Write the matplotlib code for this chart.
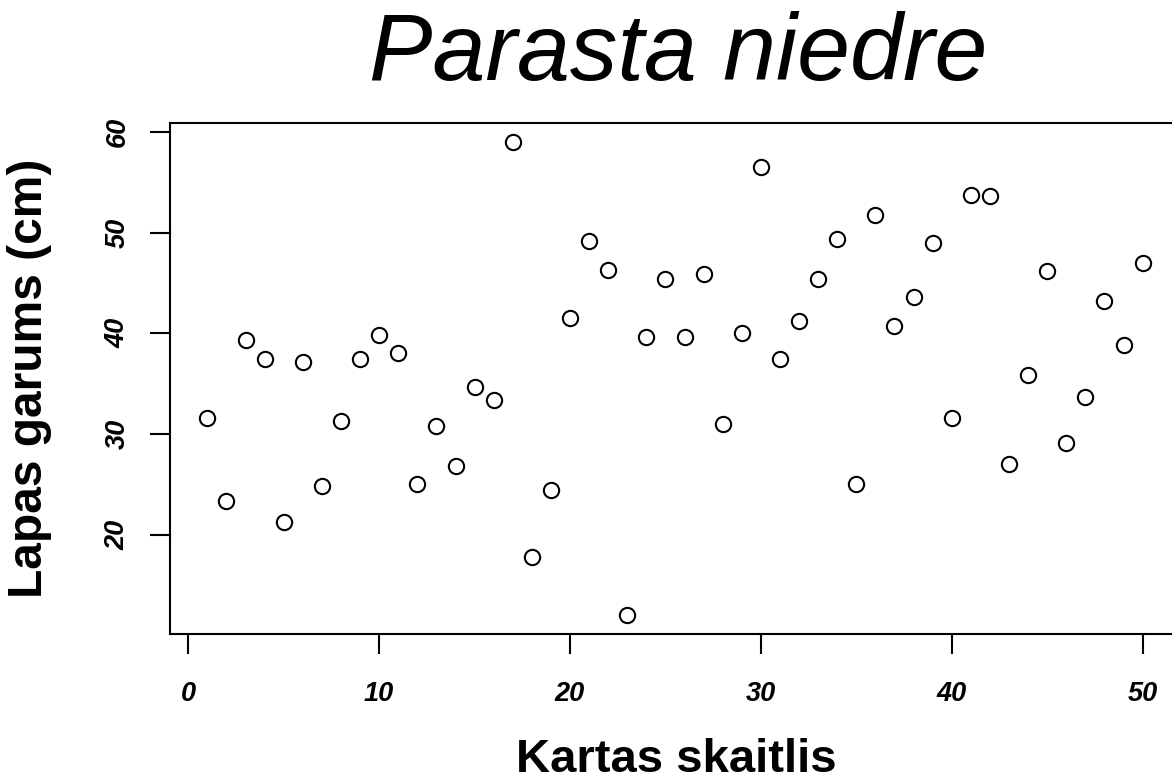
import matplotlib
matplotlib.use("Agg")
import matplotlib.pyplot as plt
import numpy as np

plt.rcParams["font.family"] = ["Liberation Sans", "DejaVu Sans"]

# card number vs leaf length (cm)
kartas = np.arange(1, 51)
garums = [31.6, 23.3, 39.3, 37.4, 21.2, 37.1, 24.8, 31.3, 37.4, 39.8,
          38.0, 25.0, 30.8, 26.8, 34.7, 33.4, 59.0, 17.8, 24.4, 41.5,
          49.2, 46.3, 12.0, 39.6, 45.4, 39.6, 45.9, 31.0, 40.0, 56.5,
          37.4, 41.2, 45.4, 49.4, 25.0, 51.7, 40.7, 43.6, 49.0, 31.6,
          53.7, 53.6, 27.0, 35.8, 46.2, 29.1, 33.7, 43.2, 38.8, 47.0]
xticks = [0, 10, 20, 30, 40, 50]
yticks = [20, 30, 40, 50, 60]


def _rlim(v):
    # R style 4% padding
    lo, hi = min(v), max(v)
    pad = 0.04 * (hi - lo)
    return lo - pad, hi + pad


W, H = 1172, 784
fig = plt.figure(figsize=(W / 100, H / 100), dpi=100)
# plot region runs past the right edge, as in the original
ax = fig.add_axes([170 / W, 1 - 634 / H, 1010 / W, 511 / H])

ax.plot(kartas, garums, "o", ms=11, mfc="white", mec="black", mew=1.5)
ax.set_xlim(*_rlim(kartas))
ax.set_ylim(*_rlim(garums))

for s in ax.spines.values():
    s.set_linewidth(1.5)

ax.set_xticks(xticks)
ax.set_yticks(yticks)
ax.tick_params(length=14.5, width=1.5, labelsize=19.5)
ax.tick_params(axis="x", pad=19)
ax.tick_params(axis="y", pad=14)
for lab in ax.get_xticklabels() + ax.get_yticklabels():
    lab.set_fontweight("bold")
    lab.set_fontstyle("italic")
for lab in ax.get_yticklabels():
    lab.set_rotation(90)
    lab.set_va("center")

fig.text(676 / W, 1 - 772 / H, "Kartas skaitlis", fontsize=34,
         fontweight="bold", ha="center", va="baseline")
fig.text(30 / W, 1 - 378 / H, "Lapas garums (cm)", fontsize=34.5,
         fontweight="bold", ha="center", va="center", rotation=90)
fig.text(678 / W, 1 - 80 / H, "Parasta niedre", fontsize=68.5,
         fontstyle="italic", ha="center", va="baseline")

fig.savefig("out.png", dpi=100)
